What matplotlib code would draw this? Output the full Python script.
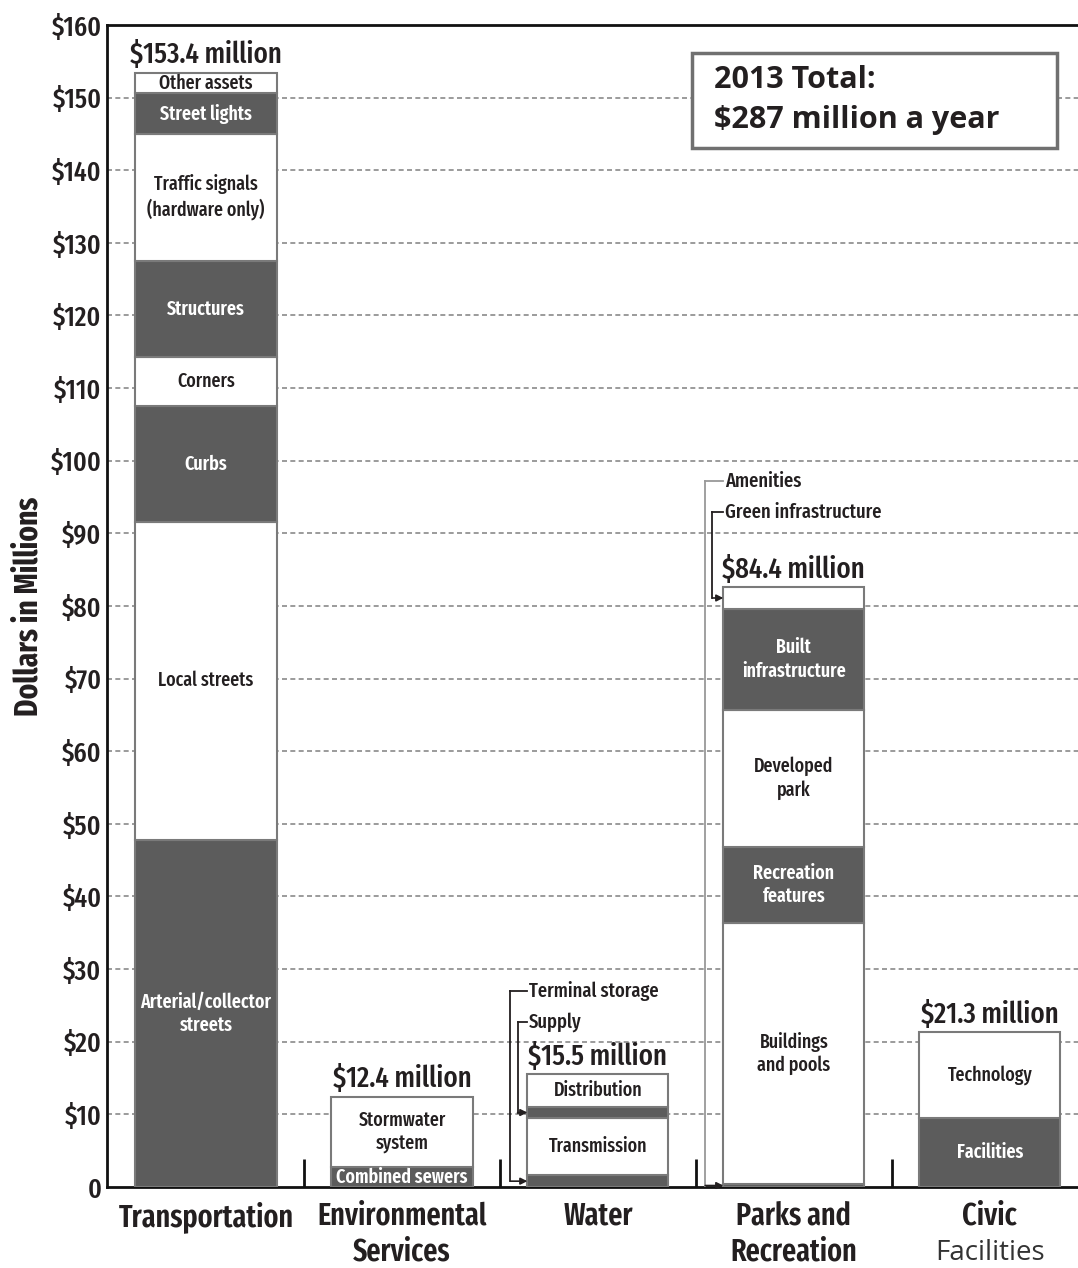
import matplotlib
matplotlib.use('Agg')
import matplotlib.pyplot as plt
from matplotlib.patches import Rectangle

plt.rcParams['font.family'] = ['Fira Sans Extra Condensed', 'DejaVu Sans']

categories = ['Transportation', 'Environmental\nServices', 'Water', 'Parks and\nRecreation', 'Civic']
totals = ['$153.4 million', '$12.4 million', '$15.5 million', '$84.4 million', '$21.3 million']

transport_labels = ['Arterial/collector\nstreets', 'Local streets', 'Curbs', 'Corners', 'Structures',
                    'Traffic signals\n(hardware only)', 'Street lights', 'Other assets']
transport_values = [47.8, 43.8, 15.9, 6.8, 13.2, 17.5, 5.6, 2.8]
env_labels = ['Combined sewers', 'Stormwater\nsystem']
env_values = [2.7, 9.7]
water_labels = ['Terminal storage', 'Transmission', 'Supply', 'Distribution']
water_values = [1.6, 7.9, 1.5, 4.5]
parks_labels = ['Amenities', 'Buildings\nand pools', 'Recreation\nfeatures', 'Developed\npark',
                'Built\ninfrastructure', 'Green infrastructure']
parks_values = [0.4, 36.0, 10.4, 18.9, 13.9, 3.0]
civic_labels = ['Facilities', 'Technology']
civic_values = [9.5, 11.8]

# segments labelled with a leader line instead of inside the bar
callouts = {2: ['Terminal storage', 'Supply'], 3: ['Amenities', 'Green infrastructure']}
callout_text_y = {'Terminal storage': 27.0, 'Supply': 22.7, 'Amenities': 97.2, 'Green infrastructure': 92.9}
callout_offset = {'Terminal storage': 0.087, 'Supply': 0.05, 'Amenities': 0.092, 'Green infrastructure': 0.056}

groups = [(transport_labels, transport_values), (env_labels, env_values), (water_labels, water_values),
          (parks_labels, parks_values), (civic_labels, civic_values)]

ink = '#231f20'
dark = '#5c5c5c'
edge = '#7a7a7a'
width = 0.72

fig = plt.figure(figsize=(10.78, 12.68), dpi=100)
ax = fig.add_axes([0.0993, 0.0639, 0.9007, 0.9164])

for i, (labels, values) in enumerate(groups):
    bottom = 0
    for j, (lab, v) in enumerate(zip(labels, values)):
        is_dark = j % 2 == 0
        ax.bar(i, v, width, bottom=bottom, color=dark if is_dark else 'white',
               edgecolor=edge, linewidth=1.5, zorder=3)
        mid = bottom + v / 2
        if lab not in callouts.get(i, []):
            ax.text(i, mid, lab, ha='center', va='center', zorder=4, fontsize=14,
                    color='white' if is_dark else ink,
                    fontweight='semibold' if is_dark else 'medium', linespacing=1.25)
        else:
            left = i - width / 2
            vx = left - callout_offset[lab]
            ty = callout_text_y[lab]
            lc = '#999999' if lab == 'Amenities' else ink
            ax.plot([vx, left], [ty, ty], color=lc, lw=1.3, zorder=4)
            ax.plot([vx, vx], [ty, mid], color=lc, lw=1.3, zorder=4)
            ax.annotate('', xy=(left, mid), xytext=(vx, mid),
                        arrowprops=dict(arrowstyle='-|>', color=ink, lw=1.2,
                                        shrinkA=0, shrinkB=0, mutation_scale=10), zorder=5)
            ax.text(left + 0.008, ty, lab, ha='left', va='center', fontsize=14.5,
                    fontweight='medium', color=ink, zorder=5)
        bottom += v
    ax.text(i, bottom + 0.5, totals[i], ha='center', va='bottom', fontsize=21,
            fontweight='medium', color=ink)

ax.set_xlim(-0.505, 4.45)
ax.set_ylim(0, 160)
yt = list(range(0, 161, 10))
ax.set_yticks(yt)
ax.set_yticklabels(['0'] + ['$%d' % t for t in yt[1:]], fontsize=20, fontweight='medium', color=ink)
ax.tick_params(axis='y', length=0, pad=4)
for t in yt[1:-1]:
    ax.axhline(t, color='#8a8a8a', lw=1.2, ls=(0, (3, 2)), zorder=1)

ax.set_xticks(range(5))
ax.set_xticklabels(categories, fontsize=22, fontweight='semibold', color=ink, linespacing=1.25)
ax.tick_params(axis='x', which='major', length=0, pad=10)
ax.set_xticks([0.5, 1.5, 2.5, 3.5], minor=True)
ax.tick_params(axis='x', which='minor', direction='in', length=20, width=2, color='#111111')
ax.text(4, -9.1, 'Facilities', ha='center', va='center', fontsize=20,
        family=['Open Sans', 'DejaVu Sans'], color='#333333')

for s in ['left', 'bottom', 'top']:
    ax.spines[s].set_linewidth(2)
    ax.spines[s].set_color('#111111')
ax.spines['right'].set_visible(False)

ax.set_ylabel('Dollars in Millions', fontsize=23, fontweight='bold', color=ink)
ax.yaxis.set_label_coords(-0.064, 0.50)

box = Rectangle((0.6025, 0.8941), 0.376, 0.0818, transform=ax.transAxes, facecolor='white',
                edgecolor='#707070', linewidth=2.5, zorder=6)
ax.add_patch(box)
ax.text(0.625, 0.9355, '2013 Total:\n$287 million a year', transform=ax.transAxes, ha='left', va='center',
        fontsize=22, fontweight='bold', family=['Open Sans', 'DejaVu Sans'], color=ink,
        linespacing=1.45, zorder=7)

fig.savefig('out.png', dpi=100)
